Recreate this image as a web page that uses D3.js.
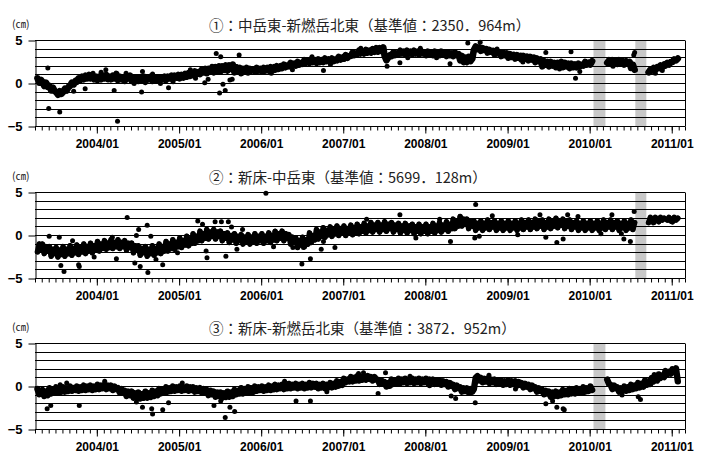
<!DOCTYPE html>
<html>
<head>
<meta charset="utf-8">
<script src="https://cdn.jsdelivr.net/npm/d3@7"></script>
<style>
  body { margin: 0; background: #fff; }
  svg { display: block; }
</style>
</head>
<body>
<svg></svg>
<script>
// Chart size and plot box
const width = 703;
const height = 463;
const left = 35;
const right = 685;
const panelH = 86;
const panelTops = [40.5, 192.5, 343.5];
const traceWidths = [6.6, 5.6, 6.4];

// Panel titles and tick labels
const titles = [
  "①：中岳東-新燃岳北東（基準値：2350．964m）",
  "②：新床-中岳東（基準値：5699．128m）",
  "③：新床-新燃岳北東（基準値：3872．952m）"
];
const yTickValues = [-5, 0, 5];
const yearTickFormat = "%Y/%m";

// Samples are taken on these days of every month, starting with firstMonth
const firstMonth = "2003-04-01";
const sampleDays = [4, 12, 20, 28];

// ① baseline change (cm), 4 values per month, 2003/04 .. 2011/01
const series1 = [
  // 2003
  null, 0.6, 0.1, 0.4,   0.2, -0.3, 0.1, -0.4,   -0.3, -0.8, -0.5, -0.9,
  -1.0, -1.3, -0.9, -1.2,   -1.0, -0.6, -0.8, -0.4,   -0.3, 0.1, -0.1, 0.3,
  0.2, 0.6, 0.4, 0.8,   0.5, 0.9, 0.6, 1.0,   0.6, 0.9, 0.5, 0.8,
  // 2004
  0.4, 0.8, 0.5, 0.9,   0.6, 1.0, 0.5, 0.8,   0.5, 0.9, 0.6, 1.1,
  0.4, 0.8, 0.5, 0.7,   0.3, 0.8, 0.6, 0.9,   0.3, 0.7, 0.4, 0.6,
  0.3, 0.7, 0.4, 0.8,   0.2, 0.6, 0.5, 0.8,   0.3, 0.7, 0.4, 0.6,
  0.3, 0.7, 0.5, 0.8,   0.4, 0.8, 0.6, 0.9,   0.5, 0.9, 0.7, 1.0,
  // 2005
  0.6, 1.0, 0.7, 1.1,   0.8, 1.2, 0.9, 1.1,   1.0, 1.4, 1.1, 1.3,
  1.1, 1.6, 1.3, 1.7,   1.2, 1.7, 1.4, 1.9,   1.3, 1.9, 1.5, 2.0,
  1.4, 2.0, 1.6, 2.1,   1.5, 2.1, 1.7, 2.2,   1.3, 1.9, 1.5, 1.8,
  1.2, 1.7, 1.4, 1.8,   1.3, 1.7, 1.5, 1.6,   1.4, 1.8, 1.5, 1.7,
  // 2006
  1.4, 1.8, 1.5, 1.8,   1.5, 1.9, 1.6, 1.9,   1.6, 2.0, 1.7, 2.0,
  1.8, 2.2, 1.9, 2.1,   2.0, 2.4, 2.1, 2.3,   2.1, 2.5, 2.2, 2.4,
  2.3, 2.7, 2.4, 2.6,   2.4, 2.8, 2.5, 2.7,   2.4, 2.8, 2.5, 2.7,
  2.5, 2.9, 2.6, 2.8,   2.5, 2.9, 2.6, 2.8,   2.7, 3.1, 2.8, 3.0,
  // 2007
  2.9, 3.3, 3.0, 3.2,   3.2, 3.6, 3.3, 3.5,   3.4, 3.8, 3.5, 3.7,
  3.5, 3.9, 3.6, 3.8,   3.6, 4.0, 3.7, 4.1,   3.7, 4.1, 3.8, 4.2,
  3.2, 2.7, 3.0, 3.3,   3.2, 3.6, 3.3, 3.5,   3.4, 3.8, 3.5, 3.7,
  3.4, 3.8, 3.5, 3.7,   3.4, 3.8, 3.5, 3.7,   3.4, 3.8, 3.5, 3.6,
  // 2008
  3.3, 3.7, 3.4, 3.6,   3.3, 3.7, 3.4, 3.6,   3.3, 3.7, 3.4, 3.6,
  3.2, 3.6, 3.3, 3.5,   3.2, 3.6, 3.3, 3.4,   2.7, 3.2, 2.5, 3.0,
  2.5, 3.1, 2.6, 2.9,   3.9, 4.3, 4.0, 4.2,   3.8, 4.1, 3.9, 4.0,
  3.6, 3.9, 3.7, 3.8,   3.4, 3.7, 3.5, 3.6,   3.2, 3.6, 3.3, 3.5,
  // 2009
  3.0, 3.4, 3.1, 3.3,   2.9, 3.3, 3.0, 3.2,   2.8, 3.2, 2.9, 3.1,
  2.7, 3.1, 2.8, 3.0,   2.5, 2.9, 2.6, 2.8,   2.0, 2.6, 2.2, 2.5,
  2.0, 2.5, 2.1, 2.4,   1.9, 2.4, 2.1, 2.5,   1.9, 2.4, 2.0, 2.3,
  1.8, 2.3, 1.9, 2.2,   1.9, 2.3, 2.0, 2.2,   2.1, 2.5, 2.2, 2.4,
  // 2010
  2.2, 2.6, null, null,   null, null, null, null,   null, null, 2.4, 2.7,
  2.3, 2.7, 2.4, 2.6,   2.3, 2.7, 2.4, 2.6,   2.2, 2.6, 2.3, 2.5,
  1.8, 2.2, 1.6, null,   null, null, null, null,   null, null, 1.3, 1.6,
  1.5, 1.8, 1.6, 1.9,   1.8, 2.1, 1.9, 2.2,   2.1, 2.4, 2.2, 2.5,
  // 2011
  2.5, 2.8, 2.7, 2.9
];

// ② baseline change (cm)
const series2 = [
  // 2003
  null, -1.9, -1.0, -1.6,   -1.0, -2.1, -1.3, -1.8,   -1.3, -2.4, -1.6, -2.1,
  -1.4, -2.5, -1.7, -2.2,   -1.3, -2.4, -1.6, -2.1,   -1.2, -2.3, -1.5, -2.0,
  -1.1, -2.2, -1.4, -1.9,   -1.0, -2.1, -1.3, -1.8,   -0.9, -2.0, -1.2, -1.7,
  // 2004
  -0.7, -1.8, -1.0, -1.5,   -0.6, -1.6, -0.9, -1.4,   -0.5, -1.5, -0.8, -1.3,
  -0.5, -1.5, -0.8, -1.3,   -0.6, -1.7, -0.9, -1.4,   -0.9, -2.0, -1.2, -1.7,
  -1.2, -2.3, -1.5, -2.0,   -1.3, -2.4, -1.6, -2.1,   -1.2, -2.3, -1.5, -2.0,
  -1.0, -2.1, -1.3, -1.8,   -0.7, -1.8, -1.0, -1.5,   -0.5, -1.6, -0.8, -1.3,
  // 2005
  -0.3, -1.4, -0.6, -1.1,   -0.1, -1.2, -0.4, -0.9,   0.2, -0.9, -0.1, -0.6,
  0.5, -0.6, 0.2, -0.3,   0.7, -0.4, 0.4, -0.1,   0.7, -0.4, 0.4, -0.1,
  0.5, -0.6, 0.2, -0.3,   0.3, -0.8, 0.0, -0.5,   0.2, -0.9, -0.1, -0.6,
  0.1, -1.0, -0.2, -0.7,   0.1, -1.0, -0.2, -0.7,   0.2, -0.9, -0.1, -0.6,
  // 2006
  0.2, -0.9, -0.1, -0.6,   0.3, -0.8, 0.0, -0.5,   0.5, -0.6, 0.2, -0.3,
  0.5, -0.6, 0.2, -0.3,   0.1, -1.0, -0.2, -0.7,   -0.3, -1.4, -0.6, -1.1,
  -0.2, -1.3, -0.5, -1.0,   0.3, -0.8, 0.0, -0.5,   0.7, -0.4, 0.4, -0.1,
  0.9, -0.2, 0.6, 0.1,   1.0, -0.1, 0.7, 0.2,   1.1, 0.0, 0.8, 0.3,
  // 2007
  1.1, 0.0, 0.8, 0.3,   1.2, 0.1, 0.9, 0.4,   1.3, 0.2, 1.0, 0.5,
  1.4, 0.3, 1.1, 0.6,   1.5, 0.4, 1.2, 0.7,   1.5, 0.4, 1.2, 0.7,
  1.6, 0.5, 1.3, 0.8,   1.5, 0.4, 1.2, 0.7,   1.4, 0.3, 1.1, 0.6,
  1.4, 0.3, 1.1, 0.6,   1.3, 0.2, 1.0, 0.5,   1.3, 0.2, 1.0, 0.5,
  // 2008
  1.3, 0.2, 1.0, 0.5,   1.4, 0.3, 1.1, 0.6,   1.5, 0.4, 1.2, 0.7,
  1.6, 0.5, 1.3, 0.8,   1.9, 0.8, 1.6, 1.1,   2.2, 1.1, 1.9, 1.4,
  1.9, 0.8, 1.6, 1.1,   1.7, 0.6, 1.4, 0.9,   1.7, 0.6, 1.4, 0.9,
  1.8, 0.7, 1.5, 1.0,   1.7, 0.6, 1.4, 0.9,   1.7, 0.6, 1.4, 0.9,
  // 2009
  1.7, 0.6, 1.4, 0.9,   1.7, 0.6, 1.4, 0.9,   1.8, 0.7, 1.5, 1.0,
  1.8, 0.7, 1.5, 1.0,   1.9, 0.8, 1.6, 1.1,   1.8, 0.7, 1.5, 1.0,
  1.9, 0.8, 1.6, 1.1,   2.0, 0.9, 1.7, 1.2,   1.9, 0.8, 1.6, 1.1,
  1.8, 0.7, 1.5, 1.0,   1.7, 0.6, 1.4, 0.9,   1.7, 0.6, 1.4, 0.9,
  // 2010
  1.7, 0.6, 1.4, 0.9,   1.7, 0.6, 1.4, 0.9,   1.8, 0.7, 1.5, 1.0,
  1.8, 0.7, 1.5, 1.0,   1.7, 0.6, 1.4, 0.9,   1.7, 0.6, 1.4, 0.9,
  1.8, 0.7, 1.5, null,   null, null, null, null,   null, null, 1.5, 2.1,
  1.9, 1.5, 2.1, null,   1.6, 2.1, 1.8, 2.0,   null, 1.8, 2.1, 1.7,
  // 2011
  1.6, 2.1, 1.8, 2.0
];

// ③ baseline change (cm)
const series3 = [
  // 2003
  null, -0.3, -0.9, -0.5,   -0.4, -1.1, -0.6, -1.0,   -0.2, -0.8, -0.4, -0.7,
  -0.1, -0.7, -0.3, -0.6,   -0.1, -0.6, -0.2, -0.5,   0.0, -0.5, -0.2, -0.4,
  0.0, -0.5, -0.1, -0.4,   0.1, -0.4, 0.0, -0.3,   0.1, -0.4, 0.0, -0.3,
  // 2004
  0.2, -0.3, 0.1, -0.2,   0.2, -0.3, 0.1, -0.2,   0.1, -0.4, 0.0, -0.3,
  -0.2, -0.7, -0.3, -0.6,   -0.5, -1.1, -0.6, -1.0,   -0.6, -1.3, -0.8, -1.2,
  -0.7, -1.4, -0.9, -1.3,   -0.6, -1.3, -0.8, -1.2,   -0.5, -1.1, -0.6, -1.0,
  -0.3, -0.8, -0.4, -0.7,   -0.1, -0.6, -0.2, -0.5,   0.0, -0.5, -0.1, -0.4,
  // 2005
  0.0, -0.5, -0.1, -0.4,   0.0, -0.5, -0.1, -0.4,   -0.1, -0.6, -0.2, -0.5,
  -0.2, -0.7, -0.3, -0.6,   -0.4, -1.0, -0.5, -0.9,   -0.6, -1.2, -0.7, -1.1,
  -0.7, -1.3, -0.8, -1.2,   -0.6, -1.2, -0.7, -1.1,   -0.4, -0.9, -0.5, -0.8,
  -0.2, -0.8, -0.3, -0.7,   -0.1, -0.7, -0.2, -0.6,   0.0, -0.5, -0.1, -0.4,
  // 2006
  0.0, -0.5, -0.1, -0.4,   0.1, -0.4, 0.0, -0.3,   0.2, -0.3, 0.1, -0.2,
  0.2, -0.3, 0.1, -0.2,   0.3, -0.2, 0.2, -0.1,   0.3, -0.2, 0.2, -0.1,
  0.3, -0.2, 0.2, -0.1,   0.4, -0.1, 0.3, 0.0,   0.3, -0.2, 0.2, -0.1,
  0.3, -0.2, 0.2, -0.1,   0.4, -0.1, 0.3, 0.0,   0.6, 0.1, 0.5, 0.2,
  // 2007
  0.9, 0.5, 0.8, 0.6,   1.1, 0.6, 1.0, 0.7,   1.2, 0.7, 1.1, 0.8,
  1.2, 0.8, 1.2, 0.9,   1.1, 0.7, 1.1, 0.8,   0.8, 0.3, 0.7, 0.4,
  0.5, 0.0, 0.4, 0.1,   0.8, 0.3, 0.7, 0.4,   0.9, 0.4, 0.8, 0.5,
  0.9, 0.4, 0.8, 0.5,   0.9, 0.4, 0.8, 0.5,   0.9, 0.4, 0.8, 0.5,
  // 2008
  0.9, 0.4, 0.8, 0.5,   0.8, 0.3, 0.7, 0.4,   0.7, 0.2, 0.6, 0.3,
  0.5, 0.0, 0.4, 0.1,   0.2, -0.3, 0.1, -0.2,   -0.1, -0.6, -0.2, -0.5,
  -0.2, -0.7, -0.3, -0.6,   -0.3, 1.0, 1.2, 0.7,   1.0, 0.5, 0.9, 0.6,
  0.9, 0.4, 0.8, 0.5,   0.8, 0.3, 0.7, 0.4,   0.7, 0.2, 0.6, 0.3,
  // 2009
  0.7, 0.2, 0.6, 0.3,   0.6, 0.1, 0.5, 0.2,   0.4, -0.1, 0.3, 0.0,
  0.2, -0.3, 0.1, -0.2,   -0.1, -0.6, -0.2, -0.5,   -0.4, -0.9, -0.5, -0.8,
  -0.6, -1.2, -0.7, -1.1,   -0.6, -1.1, -0.7, -1.0,   -0.4, -0.9, -0.5, -0.9,
  -0.3, -0.8, -0.4, -0.8,   -0.2, -0.7, -0.3, -0.7,   -0.1, -0.6, -0.2, -0.5,
  // 2010
  0.0, -0.4, null, null,   null, null, null, null,   null, null, 0.8, 0.3,
  0.2, -0.3, 0.1, -0.2,   -0.1, -0.6, -0.2, -0.5,   0.0, -0.5, -0.1, -0.4,
  0.2, -0.3, 0.1, -0.2,   0.4, -0.1, 0.3, 0.0,   0.7, 0.2, 0.6, 0.3,
  1.0, 0.6, 0.9, 0.7,   1.4, 1.0, 1.3, 1.1,   1.8, 1.4, 1.7, 1.5,
  // 2011
  2.0, 1.7, 2.1, 0.6
];

// Scattered single days away from the main band
const outliers1 = [
  ["2003-05-28", 1.8], ["2003-06-01", -2.9], ["2003-07-20", -3.3], ["2003-11-10", -0.6],
  ["2004-02-10", 1.6], ["2004-03-18", -0.8], ["2004-04-02", -4.4], ["2004-07-18", -1.0],
  ["2004-07-22", 1.4], ["2004-11-15", -0.5], ["2005-04-25", 0.1], ["2005-05-10", 0.5],
  ["2005-06-15", 3.5], ["2005-07-05", 3.1], ["2005-06-30", -1.1], ["2005-07-25", -0.8],
  ["2005-07-15", -0.1], ["2005-08-15", 0.4], ["2005-09-25", 3.3], ["2005-08-25", 0.5],
  ["2006-10-05", 1.5], ["2007-07-15", 2.0], ["2007-09-10", 2.4], ["2008-04-20", 2.3],
  ["2008-07-08", 4.7], ["2008-09-01", 4.8], ["2009-06-20", 3.6], ["2009-10-10", 3.7],
  ["2009-10-30", 0.6], ["2009-11-18", 1.4], ["2010-07-20", 3.6], ["2010-07-16", 3.3],
  ["2010-10-20", 1.2],
  ["2003-09-20", -0.9], ["2003-12-15", 1.2], ["2004-01-20", 1.3], ["2004-05-10", 1.2],
  ["2004-06-15", 0.0], ["2004-09-05", 1.1], ["2004-10-10", 0.0], ["2004-12-05", 0.2],
  ["2005-02-20", 1.6], ["2005-03-15", 0.6], ["2006-02-15", 1.2], ["2006-05-20", 1.6],
  ["2006-08-15", 3.1], ["2006-11-05", 2.2], ["2007-03-20", 4.1], ["2007-10-15", 3.0],
  ["2007-12-10", 4.1], ["2008-02-20", 3.0], ["2008-11-15", 4.0], ["2009-03-10", 2.5],
  ["2009-08-20", 1.7], ["2010-04-15", 2.0], ["2010-11-20", 1.5]
];
const outliers2 = [
  ["2003-07-25", -3.5], ["2003-08-08", -4.2], ["2003-06-03", -0.1], ["2003-07-18", -0.2],
  ["2003-10-12", -3.4], ["2003-10-15", -3.6], ["2004-03-28", -2.7], ["2004-05-15", 2.1],
  ["2004-06-18", -3.2], ["2004-06-25", 0.0], ["2004-07-05", 0.7], ["2004-07-12", -3.6],
  ["2004-08-12", 1.2], ["2004-08-15", -4.3], ["2004-08-28", -0.1], ["2004-10-20", -3.4],
  ["2004-12-25", -2.0], ["2005-03-25", 1.7], ["2005-04-15", 1.3], ["2005-05-05", -2.6],
  ["2005-05-01", -1.8], ["2005-06-10", 1.6], ["2005-07-08", 1.6], ["2005-07-28", -2.4],
  ["2005-08-08", 1.6], ["2005-08-22", 1.0], ["2005-09-15", -1.6], ["2006-01-22", 4.9],
  ["2006-05-22", -1.4], ["2006-07-08", -1.4], ["2006-07-01", -3.3], ["2006-08-08", -2.7],
  ["2006-09-25", -1.6], ["2006-11-25", -1.4], ["2007-09-10", 2.4], ["2008-04-22", -0.7],
  ["2008-08-12", 3.6], ["2008-08-08", -0.3], ["2008-08-28", -0.1], ["2009-06-20", -0.2],
  ["2009-08-08", -0.8], ["2009-09-05", -0.4], ["2009-09-25", 2.4], ["2010-05-22", 0.2],
  ["2010-06-02", -0.4], ["2010-07-01", -0.7], ["2010-07-18", 2.8],
  ["2003-09-15", -0.6], ["2003-12-20", -2.5], ["2004-03-10", -0.2], ["2004-09-20", -2.8],
  ["2005-10-10", 0.7], ["2006-02-25", -1.3], ["2006-10-05", -0.7], ["2007-04-15", 1.9],
  ["2007-11-20", -0.3], ["2008-03-05", 1.9], ["2008-10-25", 2.3], ["2009-02-15", 0.1],
  ["2009-05-25", 2.4], ["2009-11-10", 2.2], ["2010-02-20", 0.2], ["2010-04-10", 2.4]
];
const outliers3 = [
  ["2003-05-25", -2.6], ["2003-06-10", -2.2], ["2003-07-22", 0.2], ["2003-10-15", -2.2],
  ["2004-07-22", -2.4], ["2004-09-01", -2.6], ["2004-09-05", -3.2], ["2004-10-20", -2.7],
  ["2004-11-15", -1.9], ["2005-06-05", -2.2], ["2005-07-25", -3.6], ["2005-08-15", -2.4],
  ["2005-09-05", -2.9], ["2006-06-05", -1.7], ["2006-08-08", -1.7], ["2007-04-01", 1.6],
  ["2007-07-08", 1.6], ["2007-06-05", -0.8], ["2008-04-25", -1.1], ["2008-05-15", -1.4],
  ["2008-08-10", -1.9], ["2009-06-20", -2.0], ["2009-08-08", -2.4], ["2009-09-05", -2.6],
  ["2009-09-10", -2.7], ["2010-08-15", -1.5], ["2010-08-05", -1.2],
  ["2003-08-20", 0.4], ["2004-02-05", 0.6], ["2004-06-25", -1.8], ["2005-01-15", 0.4],
  ["2005-07-05", -1.7], ["2006-04-15", 0.6], ["2006-10-20", -0.6], ["2007-03-10", 1.5],
  ["2007-10-25", 1.2], ["2008-01-20", 0.1], ["2008-10-10", 1.3], ["2009-02-05", -0.3],
  ["2009-07-20", -1.7], ["2010-05-25", -1.0], ["2010-10-15", 1.4]
];

// Grey bands (periods shaded in the original)
const gaps1 = [["2010-01-18", "2010-03-12"], ["2010-07-23", "2010-09-10"]];
const gaps2 = [["2010-07-23", "2010-09-10"]];
const gaps3 = [["2010-01-18", "2010-03-12"]];

const panels = [
  { title: titles[0], values: series1, outliers: outliers1, gaps: gaps1 },
  { title: titles[1], values: series2, outliers: outliers2, gaps: gaps2 },
  { title: titles[2], values: series3, outliers: outliers3, gaps: gaps3 }
];

const parse = d3.timeParse("%Y-%m-%d");
const start = parse(firstMonth);

// Turn the flat value list into dated samples (nulls kept for gaps)
function toSamples(values) {
  return values.map((v, i) => {
    const m = Math.floor(i / sampleDays.length);
    const month = d3.timeMonth.offset(start, m);
    const date = new Date(month.getFullYear(), month.getMonth(), sampleDays[i % sampleDays.length]);
    return { date, value: v };
  });
}

const svg = d3.select("svg").attr("width", width).attr("height", height);

const x = d3
  .scaleTime()
  .domain([parse("2003-04-01"), parse("2011-03-01")])
  .range([left, right]);

const crisp = (v) => Math.round(v - 0.5) + 0.5;

panels.forEach((p, k) => {
  const top = panelTops[k];
  const bottom = top + panelH;
  const y = d3.scaleLinear().domain([-5, 5]).range([bottom, top]);
  const g = svg.append("g");

  // Title and unit
  g.append("text")
    .attr("x", 209)
    .attr("y", top - 10)
    .style("font-family", "'Noto Sans CJK JP', sans-serif")
    .style("font-size", "14.5px")
    .attr("fill", "#222")
    .text(p.title);
  g.append("text")
    .attr("x", 12)
    .attr("y", top - 12.5)
    .style("font-family", "'Noto Sans CJK JP', sans-serif")
    .style("font-size", "10.5px")
    .attr("fill", "#222")
    .text("(㎝)");

  // Grey bands
  g.selectAll("rect.gap")
    .data(p.gaps)
    .enter()
    .append("rect")
    .attr("class", "gap")
    .attr("x", (d) => x(parse(d[0])))
    .attr("width", (d) => x(parse(d[1])) - x(parse(d[0])))
    .attr("y", top)
    .attr("height", panelH)
    .attr("fill", "#c8c8c8");

  // Horizontal grid every 1 cm
  g.selectAll("line.grid")
    .data(d3.range(-5, 6))
    .enter()
    .append("line")
    .attr("x1", left)
    .attr("x2", right)
    .attr("y1", (d) => crisp(y(d)))
    .attr("y2", (d) => crisp(y(d)))
    .attr("stroke", "#000")
    .attr("stroke-width", 1);

  // Right border and left axis
  g.append("line")
    .attr("x1", right + 0.5).attr("x2", right + 0.5)
    .attr("y1", crisp(top)).attr("y2", crisp(bottom))
    .attr("stroke", "#000");

  const yAxis = g.append("g")
    .attr("transform", `translate(${left + 0.5},0)`)
    .call(d3.axisLeft(y).tickValues(yTickValues).tickSize(7).tickSizeOuter(0).tickPadding(6));
  yAxis.select(".domain").attr("stroke", "#000");
  yAxis.selectAll(".tick line").attr("transform", (d) => `translate(0,${crisp(y(d)) - y(d)})`);
  yAxis.selectAll("text")
    .style("font-family", "'Liberation Sans', Arial, sans-serif")
    .style("font-size", "13px")
    .style("font-weight", "bold")
    .attr("fill", "#000");

  // Monthly minor ticks and yearly labelled ticks
  const xMinor = g.append("g")
    .attr("transform", `translate(0,${crisp(bottom)})`)
    .call(d3.axisBottom(x).ticks(d3.timeMonth.every(1)).tickSize(4).tickSizeOuter(0).tickFormat(""));
  xMinor.select(".domain").remove();

  const xMajor = g.append("g")
    .attr("transform", `translate(0,${crisp(bottom)})`)
    .call(
      d3.axisBottom(x)
        .ticks(d3.timeYear.every(1))
        .tickSize(7)
        .tickSizeOuter(0)
        .tickPadding(6)
        .tickFormat(d3.timeFormat(yearTickFormat))
    );
  xMajor.select(".domain").remove();
  xMajor.selectAll("text")
    .style("font-family", "'Liberation Sans', Arial, sans-serif")
    .style("font-size", "12px")
    .style("font-weight", "bold")
    .attr("fill", "#000");

  // Daily samples: a thick trace through consecutive samples fills the band
  const samples = toSamples(p.values);
  const trace = d3
    .line()
    .defined((d) => d.value !== null)
    .x((d) => x(d.date))
    .y((d) => y(d.value));
  g.append("path")
    .datum(samples)
    .attr("d", trace)
    .attr("fill", "none")
    .attr("stroke", "#000")
    .attr("stroke-width", traceWidths[k])
    .attr("stroke-linejoin", "round")
    .attr("stroke-linecap", "round");

  const pts = samples
    .filter((d) => d.value !== null)
    .concat(p.outliers.map((d) => ({ date: parse(d[0]), value: d[1] })));
  g.selectAll("circle")
    .data(pts)
    .enter()
    .append("circle")
    .attr("cx", (d) => x(d.date))
    .attr("cy", (d) => y(d.value))
    .attr("r", 2.5)
    .attr("fill", "#000");
});
</script>
</body>
</html>
